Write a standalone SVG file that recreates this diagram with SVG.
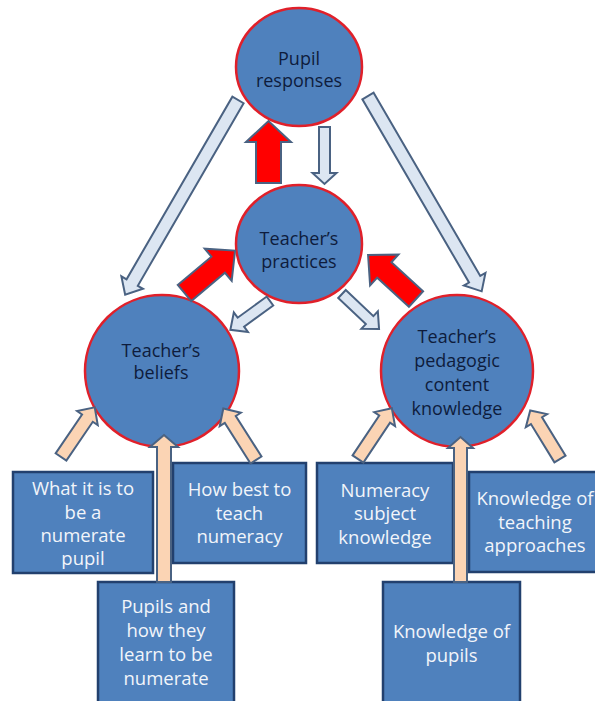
<svg xmlns="http://www.w3.org/2000/svg" width="595" height="701" viewBox="0 0 595 701">
<style>
.circ{fill:#4f81bd;stroke:#e0202a;stroke-width:2.5}
.box{fill:#4f81bd;stroke:#22406e;stroke-width:2.5}
.ct{font-family:"Open Sans","Liberation Sans",sans-serif;font-size:18px;fill:#0e1c3c;text-anchor:middle}
.bt{font-family:"Open Sans","Liberation Sans",sans-serif;font-size:18.5px;fill:#f2f5fa;text-anchor:middle}
.light{fill:#dce6f2;stroke:#4a6282;stroke-width:2;stroke-linejoin:miter}
.peach{fill:#fbd4b4;stroke:#4a6282;stroke-width:2}
.red{fill:#ff0000;stroke:#4a6282;stroke-width:2}
</style>
<rect width="595" height="701" fill="#ffffff"/>
<g id="pupil-responses">
<ellipse class="circ" cx="299" cy="67" rx="63" ry="59"/>
<text class="ct" x="299" y="65">Pupil</text>
<text class="ct" x="299" y="87">responses</text>
</g>
<g id="teachers-practices">
<ellipse class="circ" cx="299" cy="244" rx="63" ry="59"/>
<text class="ct" x="299" y="245">Teacher’s</text>
<text class="ct" x="299" y="268">practices</text>
</g>
<g id="teachers-beliefs">
<ellipse class="circ" cx="162" cy="371" rx="77" ry="76"/>
<text class="ct" x="161" y="357">Teacher’s</text>
<text class="ct" x="161" y="379">beliefs</text>
</g>
<g id="teachers-pck">
<ellipse class="circ" cx="457" cy="371" rx="76" ry="76"/>
<text class="ct" x="457" y="343">Teacher’s</text>
<text class="ct" x="457" y="367">pedagogic</text>
<text class="ct" x="457" y="391">content</text>
<text class="ct" x="457" y="415">knowledge</text>
</g>
<g id="box-numerate-pupil">
<rect class="box" x="13" y="472" width="140" height="101"/>
<text class="bt" x="83" y="495">What it is to</text>
<text class="bt" x="83" y="519">be a</text>
<text class="bt" x="83" y="542">numerate</text>
<text class="bt" x="83" y="565">pupil</text>
</g>
<g id="box-how-best">
<rect class="box" x="173" y="463" width="133" height="100"/>
<text class="bt" x="239.5" y="496">How best to</text>
<text class="bt" x="239.5" y="520">teach</text>
<text class="bt" x="239.5" y="543">numeracy</text>
</g>
<g id="box-pupils-learn">
<rect class="box" x="98" y="582" width="136" height="125"/>
<text class="bt" x="166" y="613">Pupils and</text>
<text class="bt" x="166" y="637">how they</text>
<text class="bt" x="166" y="661">learn to be</text>
<text class="bt" x="166" y="685">numerate</text>
</g>
<g id="box-subject-knowledge">
<rect class="box" x="317" y="463" width="136" height="100"/>
<text class="bt" x="385" y="497">Numeracy</text>
<text class="bt" x="385" y="520">subject</text>
<text class="bt" x="385" y="544">knowledge</text>
</g>
<g id="box-teaching-approaches">
<rect class="box" x="469" y="472" width="134" height="100"/>
<text class="bt" x="535" y="505">Knowledge of</text>
<text class="bt" x="535" y="529">teaching</text>
<text class="bt" x="535" y="552">approaches</text>
</g>
<g id="box-knowledge-pupils">
<rect class="box" x="383" y="582" width="137" height="125"/>
<text class="bt" x="451.5" y="638">Knowledge of</text>
<text class="bt" x="451.5" y="662">pupils</text>
</g>
<g id="connectors">
<path class="red" transform="translate(268.5,183) rotate(-90)" d="M0,-12.5 L41,-12.5 L41,-22.5 L62,0 L41,22.5 L41,12.5 L0,12.5 Z"/>
<path class="light" transform="translate(324.5,127) rotate(90)" d="M0,-5.5 L46,-5.5 L46,-12 L57,0 L46,12 L46,5.5 L0,5.5 Z"/>
<path class="light" transform="translate(238,100) rotate(120.1)" d="M0,-6.5 L211,-6.5 L211,-12.5 L225,0 L211,12.5 L211,6.5 L0,6.5 Z"/>
<path class="light" transform="translate(368,96) rotate(59.8)" d="M0,-6.5 L212,-6.5 L212,-12.5 L226,0 L212,12.5 L212,6.5 L0,6.5 Z"/>
<path class="red" transform="translate(184.5,293) rotate(-40)" d="M0,-10.5 L44,-10.5 L44,-21 L66,0 L44,21 L44,10.5 L0,10.5 Z"/>
<path class="red" transform="translate(416,299) rotate(-137.5)" d="M0,-10.5 L43,-10.5 L43,-21 L65,0 L43,21 L43,10.5 L0,10.5 Z"/>
<path class="light" transform="translate(270,301) rotate(144)" d="M0,-5.5 L36,-5.5 L36,-12 L49,0 L36,12 L36,5.5 L0,5.5 Z"/>
<path class="light" transform="translate(342,294) rotate(43.4)" d="M0,-5.5 L38,-5.5 L38,-12 L51,0 L38,12 L38,5.5 L0,5.5 Z"/>
<path class="peach" transform="translate(61,457) rotate(-55.8)" d="M0,-6.5 L47,-6.5 L47,-12.5 L60,0 L47,12.5 L47,6.5 L0,6.5 Z"/>
<path class="peach" transform="translate(256,460) rotate(-122.4)" d="M0,-6.5 L48,-6.5 L48,-12.5 L61,0 L48,12.5 L48,6.5 L0,6.5 Z"/>
<path class="peach" transform="translate(164,582) rotate(-90)" d="M0,-7 L135,-7 L135,-14 L147,0 L135,14 L135,7 L0,7 Z"/>
<path class="peach" transform="translate(358,459) rotate(-56.3)" d="M0,-6.5 L48,-6.5 L48,-12.5 L61,0 L48,12.5 L48,6.5 L0,6.5 Z"/>
<path class="peach" transform="translate(560,459) rotate(-121.5)" d="M0,-6.5 L45,-6.5 L45,-12.5 L57,0 L45,12.5 L45,6.5 L0,6.5 Z"/>
<path class="peach" transform="translate(460.5,582) rotate(-90)" d="M0,-6.5 L134,-6.5 L134,-12.5 L145,0 L134,12.5 L134,6.5 L0,6.5 Z"/>
</g>
</svg>
